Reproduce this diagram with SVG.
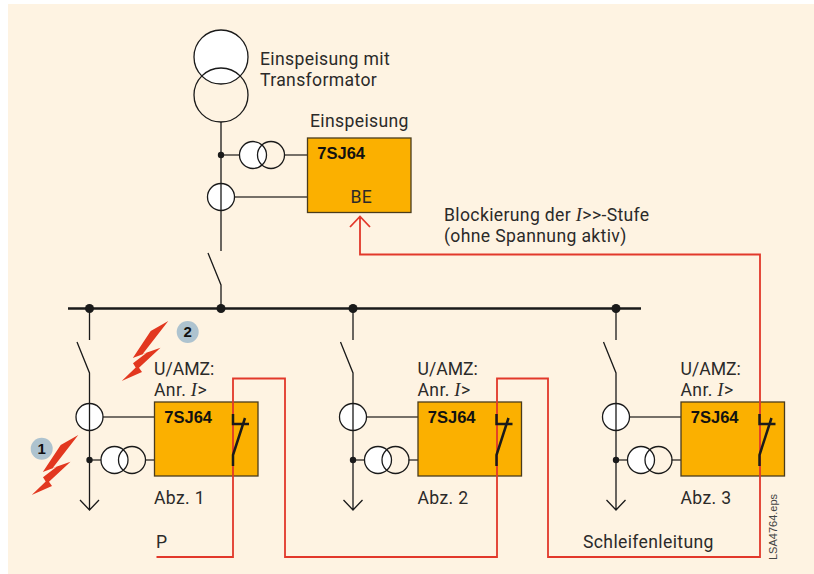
<svg xmlns="http://www.w3.org/2000/svg" xmlns:xlink="http://www.w3.org/1999/xlink" width="814" height="574" viewBox="0 0 814 574">
<style>
text{font-family:Roboto,"Noto Sans",sans-serif;font-size:17.600px;letter-spacing:.35px;fill:#2b2a29}
.i{font-family:"Liberation Serif",serif;font-style:italic;font-size:18.500px}
.dev{font-family:"Liberation Sans",Arial,sans-serif;font-weight:bold;font-size:16.500px;letter-spacing:0;fill:#111}
.num{font-family:"Liberation Sans",Arial,sans-serif;font-weight:bold;font-size:15px;letter-spacing:0;fill:#111;text-anchor:middle}
.eps{font-family:"Liberation Sans",Arial,sans-serif;font-size:11px;letter-spacing:0;fill:#444}
.ns{letter-spacing:0}
.w{fill:none;stroke:#1a1a1a;stroke-width:1.3}
.c{fill:#fff;stroke:#1a1a1a;stroke-width:1.3}
.g{fill:none;stroke:#4a4640;stroke-width:1.4}
.bus{fill:none;stroke:#1a1a1a;stroke-width:2.6}
.sw{fill:none;stroke:#1a1a1a;stroke-width:2.500}
.box{fill:#fbb000;stroke:#4a3c1c;stroke-width:1.3}
.red{fill:none;stroke:#e2382a;stroke-width:1.800}
.d{fill:#1a1a1a}
.b{fill:#aec3cf}
.bolt{fill:#e2371f}
</style>
<defs>
<polygon id="bolt" class="bolt" points="78.300,435 60.700,445 42.800,472 56.700,466.700 43,477.300 45.700,481.500 31.700,495 52,486 49,481.700 70.500,461.700 52.700,468 65.300,451.700"/>
<g id="feeder">
<path class="w" d="M89.500 308V340M77 342L89.500 373V510M80 500L89.500 510L99 500"/>
<path class="g" d="M103 417H154.500M89.500 460H101M145 460H154.500"/>
<circle class="c" cx="89.500" cy="417" r="13.500"/>
<path class="w" d="M89.500 403V431"/>
<circle class="d" cx="89.500" cy="460" r="3.200"/>
<circle class="c" cx="114.500" cy="460" r="13.500"/>
<circle cx="132" cy="460" r="13.500" class="w"/>
<rect class="box" x="154.500" y="402" width="103.500" height="74"/>
<text class="dev" x="164.300" y="423">7SJ64</text>
</g>
<path id="contact" class="sw" d="M233 414V424H249M245 418L233 455V466"/>
</defs>
<rect x="8" y="4" width="806" height="570" fill="#fef3e2"/>

<g id="wires">
<path class="bus" d="M68 308.500H641"/>
<path class="w" d="M221 122V251M208 253L221 285V308"/>
<path class="g" d="M221 155H239M285 155H307.500M235 197H307.500"/>
</g>

<g id="transformer">
<circle class="c" cx="221" cy="57" r="27"/>
<circle class="w" cx="221" cy="95" r="27"/>
<text x="260" y="65">Einspeisung mit</text>
<text x="260" y="86">Transformator</text>
</g>
<g id="busdots">
<circle class="d" cx="89.500" cy="308.500" r="4.500"/>
<circle class="d" cx="221" cy="308.500" r="4.500"/>
<circle class="d" cx="353" cy="308.500" r="4.500"/>
<circle class="d" cx="616" cy="308.500" r="4.500"/>
</g>
<g id="infeed">
<circle class="d" cx="221" cy="155" r="3.200"/>
<circle class="c" cx="253" cy="155" r="13.500"/>
<circle class="w" cx="271" cy="155" r="13.500"/>
<circle class="c" cx="221" cy="197" r="13.500"/>
<path class="w" d="M221 183V211"/>
<rect class="box" x="307.500" y="138" width="103.500" height="74.500"/>
<text x="310" y="127">Einspeisung</text>
<text class="dev" x="317.300" y="159">7SJ64</text>
<text x="350.500" y="203">BE</text>
</g>
<text x="444" y="221">Blockierung der <tspan class="i">I</tspan>&gt;&gt;-Stufe</text>
<text x="444" y="242">(ohne Spannung aktiv)</text>

<g id="abz1">
<use xlink:href="#feeder"/>
<text class="ns" x="154" y="375">U/AMZ:</text>
<text x="154" y="396">Anr. <tspan class="i">I</tspan>&gt;</text>
<text x="154" y="504">Abz. 1</text>
</g>
<g id="abz2" transform="translate(263.500 0)">
<use xlink:href="#feeder"/>
<text class="ns" x="154" y="375">U/AMZ:</text>
<text x="154" y="396">Anr. <tspan class="i">I</tspan>&gt;</text>
<text x="154" y="504">Abz. 2</text>
</g>
<g id="abz3" transform="translate(526.500 0)">
<use xlink:href="#feeder"/>
<text class="ns" x="154" y="375">U/AMZ:</text>
<text x="154" y="396">Anr. <tspan class="i">I</tspan>&gt;</text>
<text x="154" y="504">Abz. 3</text>
</g>
<g id="connectors">
<path class="red" d="M156.500 557H233V378.500H285V557H497V378.500H548V557H760V254.500H360V217M350 227L360 216.500L370 227"/>
<use xlink:href="#contact"/>
<use xlink:href="#contact" transform="translate(263.500 0)"/>
<use xlink:href="#contact" transform="translate(526.500 0)"/>
</g>
<text x="156" y="548">P</text>
<text x="583" y="548">Schleifenleitung</text>
<text class="eps" transform="translate(776.500 560) rotate(-90)">LSA4764.eps</text>

<g id="fault1">
<use xlink:href="#bolt"/>
<circle class="b" cx="41.700" cy="448.700" r="11"/>
<text class="num" x="41.700" y="454">1</text>
</g>
<g id="fault2">
<use xlink:href="#bolt" transform="translate(90 -114)"/>
<circle class="b" cx="187.700" cy="332" r="11"/>
<text class="num" x="187.700" y="337.300">2</text>
</g>
</svg>
